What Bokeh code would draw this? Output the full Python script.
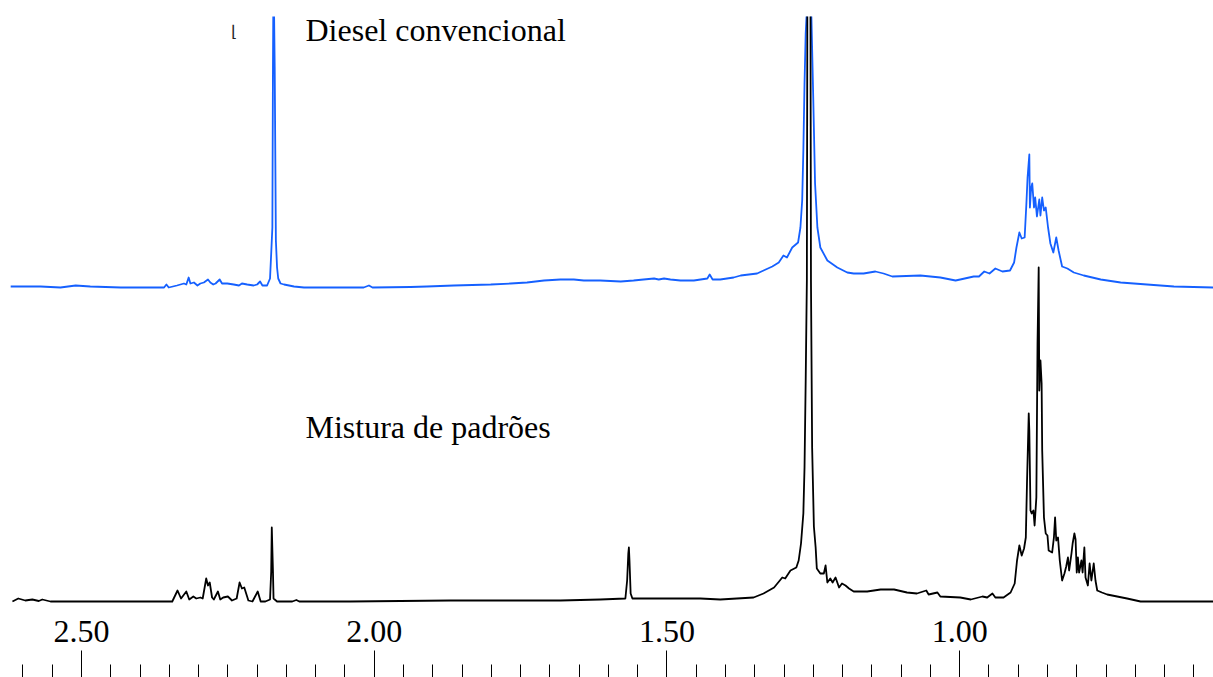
from bokeh.plotting import figure
from bokeh.models import Range1d, LinearAxis, FixedTicker, PrintfTickFormatter
from bokeh.core.properties import value
from bokeh.embed import file_html
from bokeh.resources import INLINE

# 1H NMR traces: chemical shift (ppm) and intensity (arbitrary units)
mix_ppm = [2.618, 2.608, 2.596, 2.584, 2.573, 2.567, 2.553, 2.519, 2.468, 2.399,
           2.345, 2.336, 2.330, 2.321, 2.316, 2.309, 2.304, 2.297, 2.293, 2.287,
           2.284, 2.281, 2.277, 2.274, 2.267, 2.263, 2.258, 2.250, 2.243, 2.235,
           2.230, 2.226, 2.222, 2.215, 2.208, 2.199, 2.194, 2.186, 2.178, 2.176,
           2.175, 2.173, 2.172, 2.166, 2.140, 2.133, 2.128, 2.041, 1.870, 1.682,
           1.614, 1.571, 1.568, 1.566, 1.565, 1.564, 1.562, 1.559, 1.443, 1.409,
           1.352, 1.335, 1.317, 1.303, 1.298, 1.289, 1.279, 1.275, 1.271, 1.267,
           1.265, 1.263, 1.261, 1.260, 1.257, 1.255, 1.254, 1.252, 1.249, 1.246,
           1.244, 1.238, 1.232, 1.229, 1.226, 1.221, 1.217, 1.212, 1.206, 1.201,
           1.195, 1.189, 1.181, 1.158, 1.135, 1.112, 1.090, 1.073, 1.057, 1.053,
           1.038, 1.033, 0.999, 0.981, 0.961, 0.953, 0.944, 0.939, 0.925, 0.913,
           0.906, 0.902, 0.898, 0.894, 0.890, 0.887, 0.885, 0.882, 0.881, 0.879,
           0.877, 0.874, 0.872, 0.869, 0.867, 0.865, 0.864, 0.862, 0.860, 0.859,
           0.856, 0.853, 0.850, 0.848, 0.842, 0.839, 0.837, 0.835, 0.832, 0.829,
           0.825, 0.821, 0.818, 0.815, 0.813, 0.809, 0.807, 0.804, 0.802, 0.800,
           0.798, 0.796, 0.792, 0.790, 0.787, 0.785, 0.781, 0.778, 0.775, 0.771,
           0.768, 0.765, 0.757, 0.748, 0.731, 0.714, 0.691, 0.566]
mix_int = [0, 3, 1, 2, 0.5, 2, 0, 0, 0, 0,
           0, 11, 3, 10, 2, 5, 3, 4, 3, 23,
           16, 19, 4, 2, 10, 2, 4, 5, 1, 3,
           19, 13, 14, 1, 0, 10, 0, 0, 2, 30,
           74, 30, 3, 0, 0, 1.5, 0, 0, 1, 1,
           2, 3, 21, 48, 54, 41, 8, 3, 3, 2,
           4, 8, 14, 24, 23, 31, 34, 41, 58, 88,
           134, 221, 321, 650, 720, 650, 321, 154, 75, 54,
           33, 28, 28, 36, 19, 23, 19, 24, 14, 18,
           16, 13, 10, 10, 12, 12, 9, 8, 11, 7,
           9, 5, 4, 2, 5, 4, 8, 4, 4, 9,
           18, 41, 56, 46, 53, 64, 118, 188, 171, 91,
           88, 91, 76, 104, 258, 334, 211, 241, 218, 151,
           84, 68, 66, 51, 49, 64, 84, 61, 64, 41,
           21, 28, 35, 44, 31, 48, 58, 68, 62, 29,
           44, 29, 41, 29, 54, 24, 16, 38, 21, 38,
           21, 11, 9, 7, 5, 3, 0, 0]

diesel_ppm = [2.621, 2.570, 2.536, 2.510, 2.485, 2.433, 2.382, 2.359, 2.355, 2.351,
              2.337, 2.325, 2.321, 2.317, 2.314, 2.308, 2.302, 2.297, 2.291, 2.284,
              2.280, 2.275, 2.271, 2.264, 2.260, 2.251, 2.240, 2.231, 2.226, 2.217,
              2.206, 2.200, 2.195, 2.191, 2.183, 2.178, 2.176, 2.174, 2.173, 2.172,
              2.170, 2.168, 2.166, 2.164, 2.160, 2.154, 2.137, 2.120, 2.018, 2.009,
              2.003, 1.938, 1.910, 1.864, 1.801, 1.767, 1.739, 1.710, 1.682, 1.659,
              1.642, 1.614, 1.579, 1.557, 1.540, 1.522, 1.514, 1.505, 1.494, 1.477,
              1.454, 1.431, 1.427, 1.422, 1.409, 1.386, 1.374, 1.346, 1.335, 1.320,
              1.309, 1.301, 1.295, 1.286, 1.276, 1.272, 1.269, 1.267, 1.265, 1.263,
              1.260, 1.257, 1.254, 1.250, 1.247, 1.243, 1.238, 1.226, 1.209, 1.192,
              1.181, 1.164, 1.144, 1.130, 1.115, 1.067, 1.033, 1.007, 0.999, 0.976,
              0.967, 0.958, 0.949, 0.939, 0.927, 0.914, 0.907, 0.903, 0.898, 0.894,
              0.889, 0.886, 0.884, 0.881, 0.880, 0.878, 0.876, 0.873, 0.871, 0.868,
              0.864, 0.862, 0.859, 0.856, 0.853, 0.849, 0.845, 0.840, 0.835, 0.831,
              0.825, 0.816, 0.805, 0.788, 0.759, 0.725, 0.680, 0.634, 0.566]
diesel_int = [1, 1, 0, 2, 1, 0, 0, 0, 3, 0,
              2, 4, 3, 10, 4, 5, 2, 4, 5, 8,
              5, 3, 4, 8, 4, 4, 3, 2, 4, 3,
              2, 3, 6, 2, 2, 9, 34, 60, 220, 320,
              220, 47, 20, 9, 4, 3, 1, 0, 0, 2,
              0, 0.5, 1, 2, 3, 4, 5, 7, 8, 8,
              7, 7, 6, 7, 8, 9, 8, 9, 8, 7,
              7, 9, 13, 8, 8, 10, 12, 14, 17, 21,
              25, 32, 30, 40, 45, 60, 87, 137, 204, 254,
              290, 340, 290, 187, 104, 60, 40, 27, 20, 15,
              14, 14, 16, 14, 11, 12, 10, 7, 8, 11,
              11, 16, 14, 19, 16, 17, 25, 40, 55, 49,
              50, 84, 110, 133, 80, 99, 104, 80, 90, 71,
              88, 72, 90, 77, 80, 60, 44, 35, 50, 37,
              21, 19, 15, 12, 8, 5, 3, 1, 0]

major_ticks = [2.50, 2.00, 1.50, 1.00]
minor_ticks = [2.60, 2.55, 2.50, 2.45, 2.40, 2.35, 2.30, 2.25, 2.20, 2.15,
               2.10, 2.05, 2.00, 1.95, 1.90, 1.85, 1.80, 1.75, 1.70, 1.65,
               1.60, 1.55, 1.50, 1.45, 1.40, 1.35, 1.30, 1.25, 1.20, 1.15,
               1.10, 1.05, 1.00, 0.95, 0.90, 0.85, 0.80, 0.75, 0.70, 0.65, 0.60]

trace_labels = ["Diesel convencional", "Mistura de padrões"]

# vertical stacking of the two traces
DIESEL_OFFSET = 314
SERIF = "Liberation Serif"

p = figure(width=1213, height=677,
           x_range=Range1d(2.6384, 0.5664), y_range=Range1d(-76, 585),
           x_axis_type=None, y_axis_type=None,
           toolbar_location=None, output_backend="svg",
           min_border=0, min_border_top=16,
           outline_line_color=None, background_fill_color="white",
           border_fill_color="white")

p.line(diesel_ppm, [DIESEL_OFFSET + v for v in diesel_int],
       line_color="#1560ff", line_width=1.8, line_join="round")
p.line(mix_ppm, mix_int, line_color="black", line_width=1.8, line_join="round")

# trace captions
p.text(x=[2.1174, 2.1174], y=[572, 175], text=trace_labels,
       text_font=value(SERIF), text_font_size="32px", text_color="black",
       text_align="left", text_baseline="alphabetic")

# small bracket mark next to the upper trace
p.text(x=[2.2445], y=[570], text=["\u230a"], text_font=value("DejaVu Sans"),
       text_font_size="16px", text_color="#222222",
       text_align="left", text_baseline="alphabetic")

# ppm scale drawn along the bottom edge, labels above the ticks
axis = LinearAxis(fixed_location=-76,
                  ticker=FixedTicker(ticks=major_ticks, minor_ticks=minor_ticks),
                  formatter=PrintfTickFormatter(format="%.2f"))
axis.axis_line_color = None
axis.major_tick_in = 0
axis.major_tick_out = 27
axis.minor_tick_in = 0
axis.minor_tick_out = 13
axis.major_tick_line_color = "black"
axis.minor_tick_line_color = "black"
axis.major_tick_line_width = 1
axis.minor_tick_line_width = 1
axis.major_label_standoff = 9
axis.major_label_text_font = SERIF
axis.major_label_text_font_size = "32px"
axis.major_label_text_color = "black"
p.add_layout(axis, "above")

open("out.html", "w").write(file_html(p, INLINE))
